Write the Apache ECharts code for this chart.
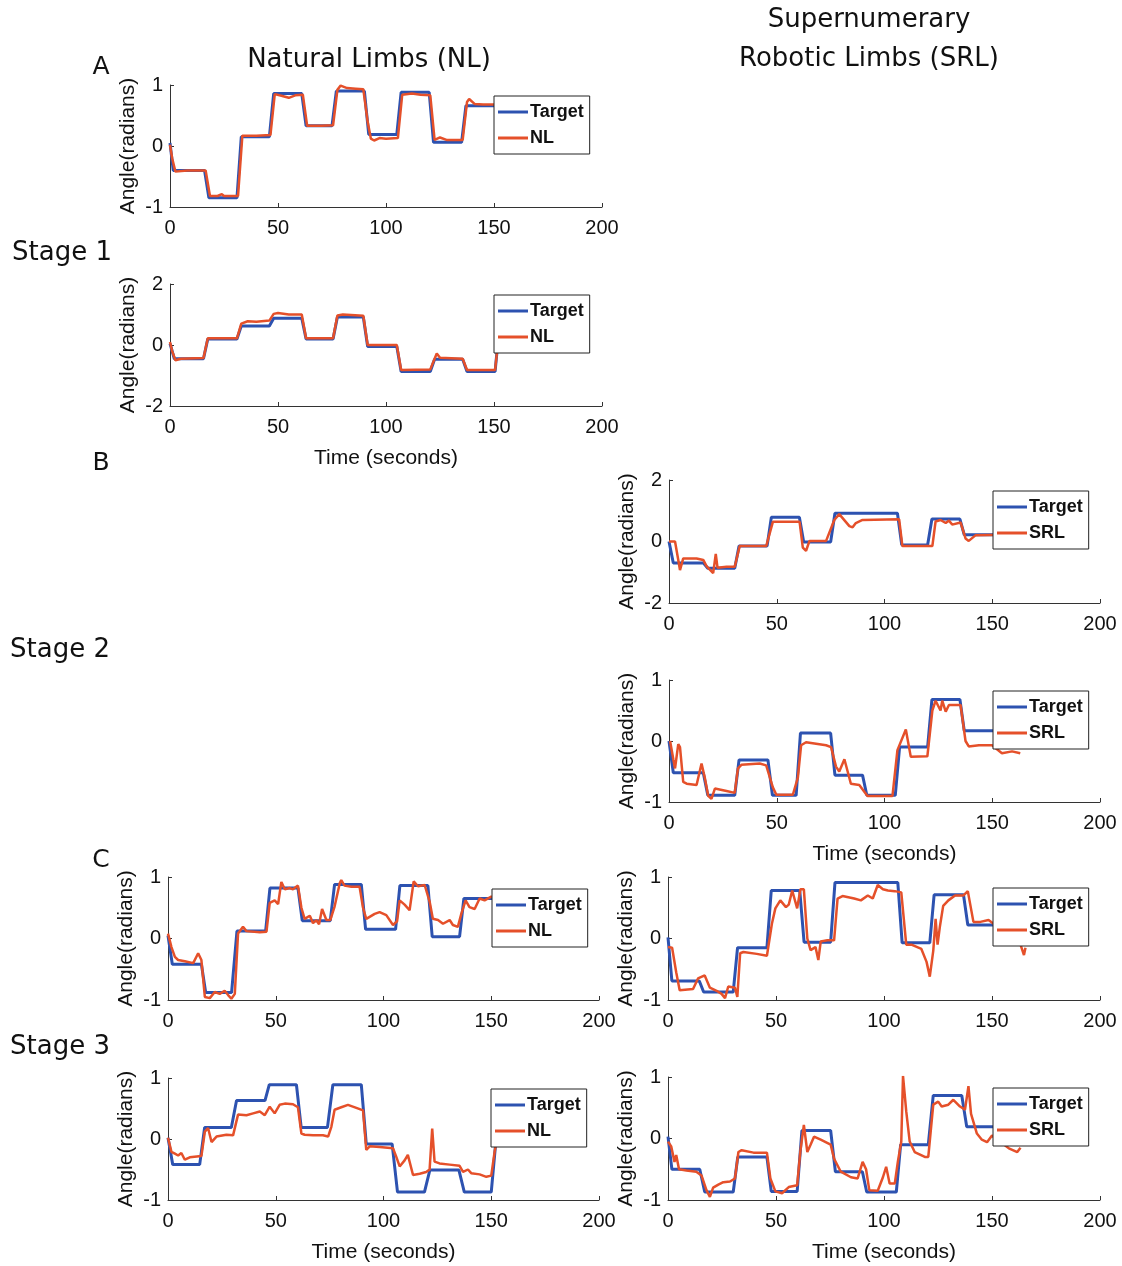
<!DOCTYPE html>
<html>
<head>
<meta charset="utf-8">
<script src="https://cdn.jsdelivr.net/npm/echarts@6/dist/echarts.min.js"></script>
<style>
html, body { margin: 0; padding: 0; background: #fff; }
#chart { width: 1122px; height: 1266px; }
</style>
</head>
<body>
<div id="chart"></div>
<script>
// [time (s), angle (rad)], one pair of arrays per panel

// Stage 1, natural limbs
const a1Target = [[0,0.05],[1.5,-0.4],[16,-0.4],[18,-0.85],[31,-0.85],[33,0.15],[46,0.15],[48,0.86],[61,0.86],[63,0.33],[75,0.33],[77,0.9],[90,0.9],[92,0.19],[105,0.19],[107,0.88],[120,0.88],[122,0.06],[135,0.06],[137,0.66],[155,0.66]];
const a1Nl = [[0,0.02],[1,-0.2],[2.5,-0.42],[8,-0.4],[16.5,-0.4],[18.5,-0.82],[22,-0.82],[24,-0.79],[25,-0.82],[31.5,-0.82],[33.5,0.17],[40,0.17],[46.5,0.18],[48.5,0.85],[52,0.82],[55,0.79],[58,0.83],[61.5,0.84],[63.5,0.33],[70,0.33],[75.5,0.34],[77.5,0.92],[79,0.99],[82,0.95],[86,0.94],[89.5,0.93],[91.5,0.4],[93,0.12],[94.5,0.09],[97,0.13],[100,0.12],[105.5,0.13],[107.5,0.84],[112,0.86],[116,0.84],[120.5,0.83],[122.5,0.1],[125,0.14],[128,0.1],[135.5,0.1],[137.5,0.72],[138.5,0.77],[141,0.69],[145,0.68],[155,0.68]];

const a2Target = [[0,0.05],[2,-0.45],[15.5,-0.45],[17.5,0.2],[31,0.2],[33,0.62],[46,0.62],[48,0.88],[61,0.88],[63,0.2],[75.5,0.2],[77.5,0.92],[89.5,0.92],[91.5,-0.05],[105,-0.05],[107,-0.87],[120.5,-0.87],[122.5,-0.47],[135.5,-0.47],[137.5,-0.87],[150.5,-0.87],[152.5,0.6],[155,0.6]];
const a2Nl = [[0,0.1],[1,-0.2],[2.5,-0.5],[5,-0.45],[15.5,-0.43],[17.5,0.22],[31,0.22],[33,0.7],[36,0.78],[40,0.76],[46,0.8],[48,1.02],[50,1.05],[55,1.0],[61,1.0],[63,0.22],[75.5,0.22],[77.5,0.97],[80,1.0],[89.5,0.96],[91.5,0.0],[105,0.0],[107,-0.82],[120.5,-0.8],[122.5,-0.45],[123.5,-0.28],[125,-0.42],[135.5,-0.45],[137.5,-0.82],[150.5,-0.82],[152.5,0.5],[155,0.6]];

// Stage 2, robotic limbs
const b1Target = [[0,0.0],[2,-0.7],[16,-0.7],[18,-0.87],[30.5,-0.87],[32.5,-0.15],[45.5,-0.15],[47.5,0.79],[60.5,0.79],[62.5,-0.02],[75,-0.02],[77,0.92],[106,0.92],[108,-0.11],[120,-0.11],[122,0.73],[135,0.73],[137,0.22],[155,0.22]];
const b1Srl = [[0,0.0],[2.8,0.0],[4.3,-0.6],[5.1,-0.93],[6.6,-0.55],[12.8,-0.55],[15.9,-0.6],[17.4,-0.8],[20.5,-1.03],[21.7,-0.4],[22.5,-0.85],[26.7,-0.82],[30.5,-0.82],[32.8,-0.15],[45.1,-0.15],[48.2,0.64],[60.6,0.64],[62.1,-0.2],[63.6,-0.3],[65.2,0.02],[72.9,0.02],[76.7,0.7],[79,0.89],[83.7,0.5],[85.2,0.46],[86.7,0.6],[89.8,0.7],[106.8,0.72],[108.3,-0.15],[122.2,-0.15],[123.7,0.65],[126,0.7],[128.4,0.6],[129.9,0.68],[131.4,0.55],[135.3,0.62],[137.6,0.1],[139.1,0.02],[142.2,0.2],[155,0.22]];

const b2Target = [[0,0.0],[2,-0.52],[15.9,-0.52],[18,-0.89],[30.5,-0.89],[32.5,-0.31],[45.9,-0.31],[48,-0.89],[59,-0.89],[61,0.13],[75,0.13],[77,-0.56],[89.8,-0.56],[91.8,-0.89],[105,-0.89],[107,-0.1],[120,-0.1],[122,0.68],[135,0.68],[137,0.17],[155,0.17]];
const b2Srl = [[0.5,0.0],[2,-0.3],[2.8,-0.45],[4.3,-0.05],[5.1,-0.1],[6.6,-0.67],[8.2,-0.7],[12.8,-0.72],[15.1,-0.37],[16.6,-0.6],[18.2,-0.9],[19.7,-0.95],[21.3,-0.78],[26.7,-0.82],[30.5,-0.85],[32,-0.45],[33.6,-0.39],[42.1,-0.37],[45.1,-0.4],[48.2,-0.76],[49.8,-0.88],[57.5,-0.88],[59.8,-0.6],[61.3,-0.07],[63.6,-0.02],[72.9,-0.07],[75.2,-0.1],[77.5,-0.42],[79,-0.5],[81.4,-0.3],[84.4,-0.7],[88.3,-0.72],[92.1,-0.9],[103.7,-0.9],[106,-0.15],[109.9,0.19],[112.2,-0.26],[119.9,-0.25],[122.2,0.5],[123.7,0.66],[126,0.5],[126.8,0.66],[128.4,0.48],[129.9,0.59],[135.3,0.59],[137.6,0.0],[139.1,-0.09],[143.8,-0.07],[149.9,-0.07],[154.5,-0.2],[159.2,-0.17],[163,-0.2]];

// Stage 3, natural limbs
const c1Target = [[0,0.05],[2,-0.42],[15.5,-0.42],[17.5,-0.88],[29.5,-0.88],[32,0.12],[45.3,0.12],[47.3,0.82],[60.3,0.82],[62.3,0.29],[75.3,0.29],[77.3,0.88],[89.7,0.88],[91.7,0.15],[105.6,0.15],[107.6,0.86],[120.6,0.86],[122.6,0.03],[135.3,0.03],[137.3,0.65],[155,0.65]];
const c1Nl = [[0,0.08],[1.6,-0.14],[3.2,-0.3],[4.7,-0.35],[7.8,-0.37],[11.7,-0.4],[14,-0.24],[15.5,-0.35],[17.1,-0.95],[19.4,-0.97],[21.7,-0.87],[24,-0.9],[26.3,-0.85],[27.9,-0.92],[29.4,-0.98],[31,-0.9],[32.5,0.08],[34.8,0.19],[36.4,0.12],[42.6,0.1],[45.7,0.11],[47.2,0.58],[49.5,0.62],[51.1,0.56],[52.6,0.92],[54.2,0.8],[56.5,0.82],[58,0.8],[60.3,0.86],[61.9,0.5],[63.4,0.32],[65.8,0.37],[67.3,0.25],[68.8,0.3],[70.1,0.23],[71.5,0.48],[73.5,0.3],[75.3,0.3],[77.3,0.52],[79.7,0.9],[80.4,0.95],[81.9,0.86],[85.1,0.84],[88.9,0.84],[90.5,0.5],[92,0.32],[95.9,0.4],[98.2,0.43],[101.3,0.38],[104.4,0.22],[106.3,0.28],[107.5,0.62],[109.8,0.55],[112.1,0.46],[114,0.93],[116,0.85],[119.1,0.87],[121.4,0.6],[122.9,0.32],[125.3,0.3],[127.6,0.24],[130.7,0.3],[132.2,0.22],[134.5,0.19],[136.1,0.4],[138.1,0.62],[139.9,0.51],[142.3,0.48],[144.6,0.65],[146.9,0.62],[150,0.68],[155,0.68]];

const d1Target = [[0,0.02],[2.2,-0.42],[14.7,-0.42],[17,0.19],[29.4,0.19],[31.8,0.63],[45,0.63],[47,0.89],[59.6,0.89],[61.8,0.19],[74,0.19],[76.5,0.89],[89.7,0.89],[92,-0.08],[104,-0.08],[106.5,-0.87],[119,-0.87],[121.5,-0.51],[135,-0.51],[137.5,-0.87],[150,-0.87],[152.5,0.1],[155,0.1]];
const d1Nl = [[0,0.02],[1.6,-0.21],[3.2,-0.24],[4.7,-0.27],[6.2,-0.23],[7.8,-0.34],[10.1,-0.3],[15.5,-0.28],[17.1,0.12],[18.6,0.18],[20.2,-0.05],[22.5,0.04],[27.1,0.07],[30.2,0.06],[32.5,0.4],[36.4,0.39],[39.5,0.42],[42.6,0.45],[44.9,0.39],[47.2,0.53],[49.5,0.42],[51.8,0.56],[54.2,0.58],[58,0.57],[60.3,0.52],[61.9,0.09],[63.4,0.07],[67.3,0.06],[71.9,0.06],[74.3,0.04],[75.8,0.2],[77.3,0.48],[80.4,0.52],[83.5,0.56],[87.4,0.51],[90.5,0.47],[92,-0.18],[93.6,-0.12],[98.2,-0.13],[104.4,-0.15],[105.9,-0.29],[107.5,-0.45],[109.8,-0.35],[111.3,-0.26],[113.7,-0.59],[116.8,-0.57],[119.8,-0.54],[121.4,-0.5],[122.6,0.17],[123.7,-0.37],[126,-0.4],[130.7,-0.42],[135.3,-0.44],[136.9,-0.54],[139.2,-0.5],[140.7,-0.56],[144.6,-0.58],[147.7,-0.62],[150,-0.6],[151.6,-0.2],[152.6,0.0],[155,0.1]];

// Stage 3, robotic limbs
const c2Target = [[0,0.02],[1.8,-0.69],[14.5,-0.69],[16.5,-0.87],[30.2,-0.87],[32.2,-0.15],[45.8,-0.15],[47.8,0.78],[61,0.78],[63,-0.06],[75.3,-0.06],[77.3,0.91],[106.4,0.91],[108.4,-0.07],[121.2,-0.07],[123.2,0.71],[136.8,0.71],[138.8,0.22],[155,0.22]];
const c2Srl = [[0,-0.14],[1.9,-0.15],[3.8,-0.55],[5.4,-0.84],[11.6,-0.82],[13.9,-0.65],[17,-0.6],[19.4,-0.8],[22.5,-0.85],[24.8,-0.9],[26.4,-0.97],[27.9,-0.78],[31,-0.8],[32.1,-0.95],[33.4,-0.24],[34.9,-0.22],[41.1,-0.25],[45.8,-0.28],[48.1,0.24],[49.7,0.49],[52,0.62],[54.6,0.51],[55.9,0.55],[57.5,0.78],[59.8,0.49],[61.3,0.8],[62.9,0.8],[64.5,0.0],[66,-0.19],[68.3,-0.14],[69.6,-0.35],[70.7,-0.05],[73.8,-0.03],[76.9,-0.03],[78.5,0.65],[80.8,0.69],[86.2,0.65],[89.3,0.62],[92.5,0.7],[94.8,0.65],[97.1,0.87],[99.5,0.8],[101.8,0.78],[105,0.77],[108,0.75],[110.3,-0.1],[112.7,-0.1],[117.3,-0.17],[119.7,-0.38],[121.2,-0.62],[122.8,-0.2],[123.9,0.32],[124.8,-0.1],[125.9,0.2],[127.4,0.53],[129.8,0.62],[132.9,0.7],[136.8,0.7],[138.8,0.77],[141.4,0.27],[144.6,0.27],[148.4,0.3],[151.5,0.22],[157.8,0.05],[160.9,0.0],[163.2,-0.1],[164.8,-0.27],[165.5,-0.15]];

const d2Target = [[0,0.03],[1.8,-0.5],[14.7,-0.5],[17,-0.87],[30.2,-0.87],[32.3,-0.3],[45.8,-0.3],[47.8,-0.86],[59.8,-0.86],[62,0.13],[75.3,0.13],[77.5,-0.54],[90,-0.54],[92,-0.87],[105.7,-0.87],[107.7,-0.1],[120.5,-0.1],[122.8,0.7],[136,0.7],[138.3,0.19],[155,0.19]];
const d2Srl = [[0,-0.05],[1.5,-0.13],[3,-0.38],[3.8,-0.27],[5.1,-0.5],[8.5,-0.52],[13.1,-0.54],[15.5,-0.6],[17.8,-0.84],[19.4,-0.95],[20.9,-0.8],[23.3,-0.75],[25.6,-0.71],[28.7,-0.7],[31,-0.65],[32.6,-0.22],[34.1,-0.19],[39.6,-0.23],[45.8,-0.23],[47.4,-0.65],[49.7,-0.86],[52.8,-0.89],[55.9,-0.79],[59.8,-0.76],[61.3,-0.2],[62.9,0.22],[64.5,-0.22],[66,-0.1],[67.6,0.03],[70.7,-0.02],[75.3,-0.1],[76.9,-0.33],[80,-0.54],[84.7,-0.63],[87.8,-0.65],[90.1,-0.38],[91.7,-0.5],[93.2,-0.84],[97.1,-0.85],[99.5,-0.63],[101,-0.46],[102.6,-0.73],[105,-0.73],[106.4,-0.38],[108,-0.05],[108.8,1.02],[110.3,0.44],[111.9,-0.05],[114.2,-0.22],[118.9,-0.3],[120.5,-0.3],[122.8,0.55],[125.1,0.6],[126.7,0.52],[129.8,0.55],[132.1,0.63],[135.2,0.52],[137.5,0.47],[139.1,0.85],[140.3,0.4],[143,0.08],[145.3,-0.02],[147.7,-0.06],[150,0.05],[157.8,-0.16],[161.7,-0.22],[163.2,-0.15]];

const xTicks = [0, 200, 50];   // min, max, step

const BLUE = '#2d52b0';
const RED = '#e5502a';
const AXIS = '#333';
const SANS = 'Liberation Sans, Arial, sans-serif';
const TITLE = 'DejaVu Sans, Verdana, sans-serif';

const panels = [
    {grid: {left: 170, top: 85, width: 432, height: 122}, yMax: 1, target: a1Target, track: a1Nl, name: 'NL', leg: [494, 96], time: false},
    {grid: {left: 170, top: 284, width: 432, height: 122}, yMax: 2, target: a2Target, track: a2Nl, name: 'NL', leg: [494, 295], time: true},
    {grid: {left: 669, top: 480, width: 431, height: 123}, yMax: 2, target: b1Target, track: b1Srl, name: 'SRL', leg: [993, 491], time: false},
    {grid: {left: 669, top: 680, width: 431, height: 122}, yMax: 1, target: b2Target, track: b2Srl, name: 'SRL', leg: [993, 691], time: true},
    {grid: {left: 168, top: 877, width: 431, height: 123}, yMax: 1, target: c1Target, track: c1Nl, name: 'NL', leg: [492, 889], time: false},
    {grid: {left: 668, top: 877, width: 432, height: 123}, yMax: 1, target: c2Target, track: c2Srl, name: 'SRL', leg: [993, 888], time: false},
    {grid: {left: 168, top: 1078, width: 431, height: 122}, yMax: 1, target: d1Target, track: d1Nl, name: 'NL', leg: [491, 1089], time: true},
    {grid: {left: 668, top: 1077, width: 432, height: 123}, yMax: 1, target: d2Target, track: d2Srl, name: 'SRL', leg: [993, 1088], time: true}
];

let grid = [], xAxis = [], yAxis = [], series = [], legend = [];

panels.forEach(function(p, i){

    grid.push(p.grid);

    xAxis.push({
        gridIndex: i, type: 'value',
        min: xTicks[0], max: xTicks[1], interval: xTicks[2],
        name: p.time ? 'Time (seconds)' : '',
        nameLocation: 'middle', nameGap: 42,
        nameTextStyle: {fontSize: 21, color: '#111', fontFamily: SANS},
        axisLine: {show: true, onZero: false, lineStyle: {color: AXIS, width: 1}},
        axisTick: {show: true, inside: true, length: 4, lineStyle: {color: AXIS}},
        axisLabel: {fontSize: 20, color: '#111', margin: 11, fontFamily: SANS},
        splitLine: {show: false}
    });

    yAxis.push({
        gridIndex: i, type: 'value',
        min: -p.yMax, max: p.yMax, interval: p.yMax,
        name: 'Angle(radians)',
        nameLocation: 'middle', nameRotate: 90, nameGap: 31,
        nameTextStyle: {fontSize: 21, color: '#111', fontFamily: SANS},
        axisLine: {show: true, onZero: false, lineStyle: {color: AXIS, width: 1}},
        axisTick: {show: true, inside: true, length: 4, lineStyle: {color: AXIS}},
        axisLabel: {fontSize: 20, color: '#111', margin: 7, fontFamily: SANS},
        splitLine: {show: false}
    });

    series.push({
        name: 'Target', type: 'line', xAxisIndex: i, yAxisIndex: i,
        data: p.target, showSymbol: false, animation: false,
        itemStyle: {color: BLUE},
        lineStyle: {color: BLUE, width: 3}
    });
    series.push({
        name: p.name, type: 'line', xAxisIndex: i, yAxisIndex: i,
        data: p.track, showSymbol: false, animation: false,
        itemStyle: {color: RED},
        lineStyle: {color: RED, width: 2.5}
    });

    legend.push({
        data: ['Target', p.name],
        orient: 'vertical', left: p.leg[0], top: p.leg[1],
        backgroundColor: '#fff', borderColor: '#222', borderWidth: 1, borderRadius: 0,
        padding: [7, 6, 7, 4], itemGap: 8,
        itemWidth: 30, itemHeight: 3, icon: 'rect',
        selectedMode: false,
        textStyle: {fontSize: 18, fontWeight: 'bold', color: '#111', fontFamily: SANS, padding: [0, 0, 0, -3]}
    });

});

function label(text, x, y, size){
    return {
        type: 'text', x: x, y: y,
        style: {text: text, fontSize: size, fontFamily: TITLE, fill: '#111', align: 'center', verticalAlign: 'middle'}
    };
}

let chart = echarts.init(document.getElementById('chart'));
chart.setOption({
    animation: false,
    grid: grid,
    xAxis: xAxis,
    yAxis: yAxis,
    legend: legend,
    series: series,
    graphic: [
        label('Natural Limbs (NL)', 369, 60, 26),
        label('Supernumerary', 869, 20, 26),
        label('Robotic Limbs (SRL)', 869, 59, 26),
        label('A', 101, 67, 25),
        label('B', 101, 463, 25),
        label('C', 101, 860, 25),
        label('Stage 1', 62, 253, 26),
        label('Stage 2', 60, 650, 26),
        label('Stage 3', 60, 1047, 26)
    ]
});
</script>
</body>
</html>
